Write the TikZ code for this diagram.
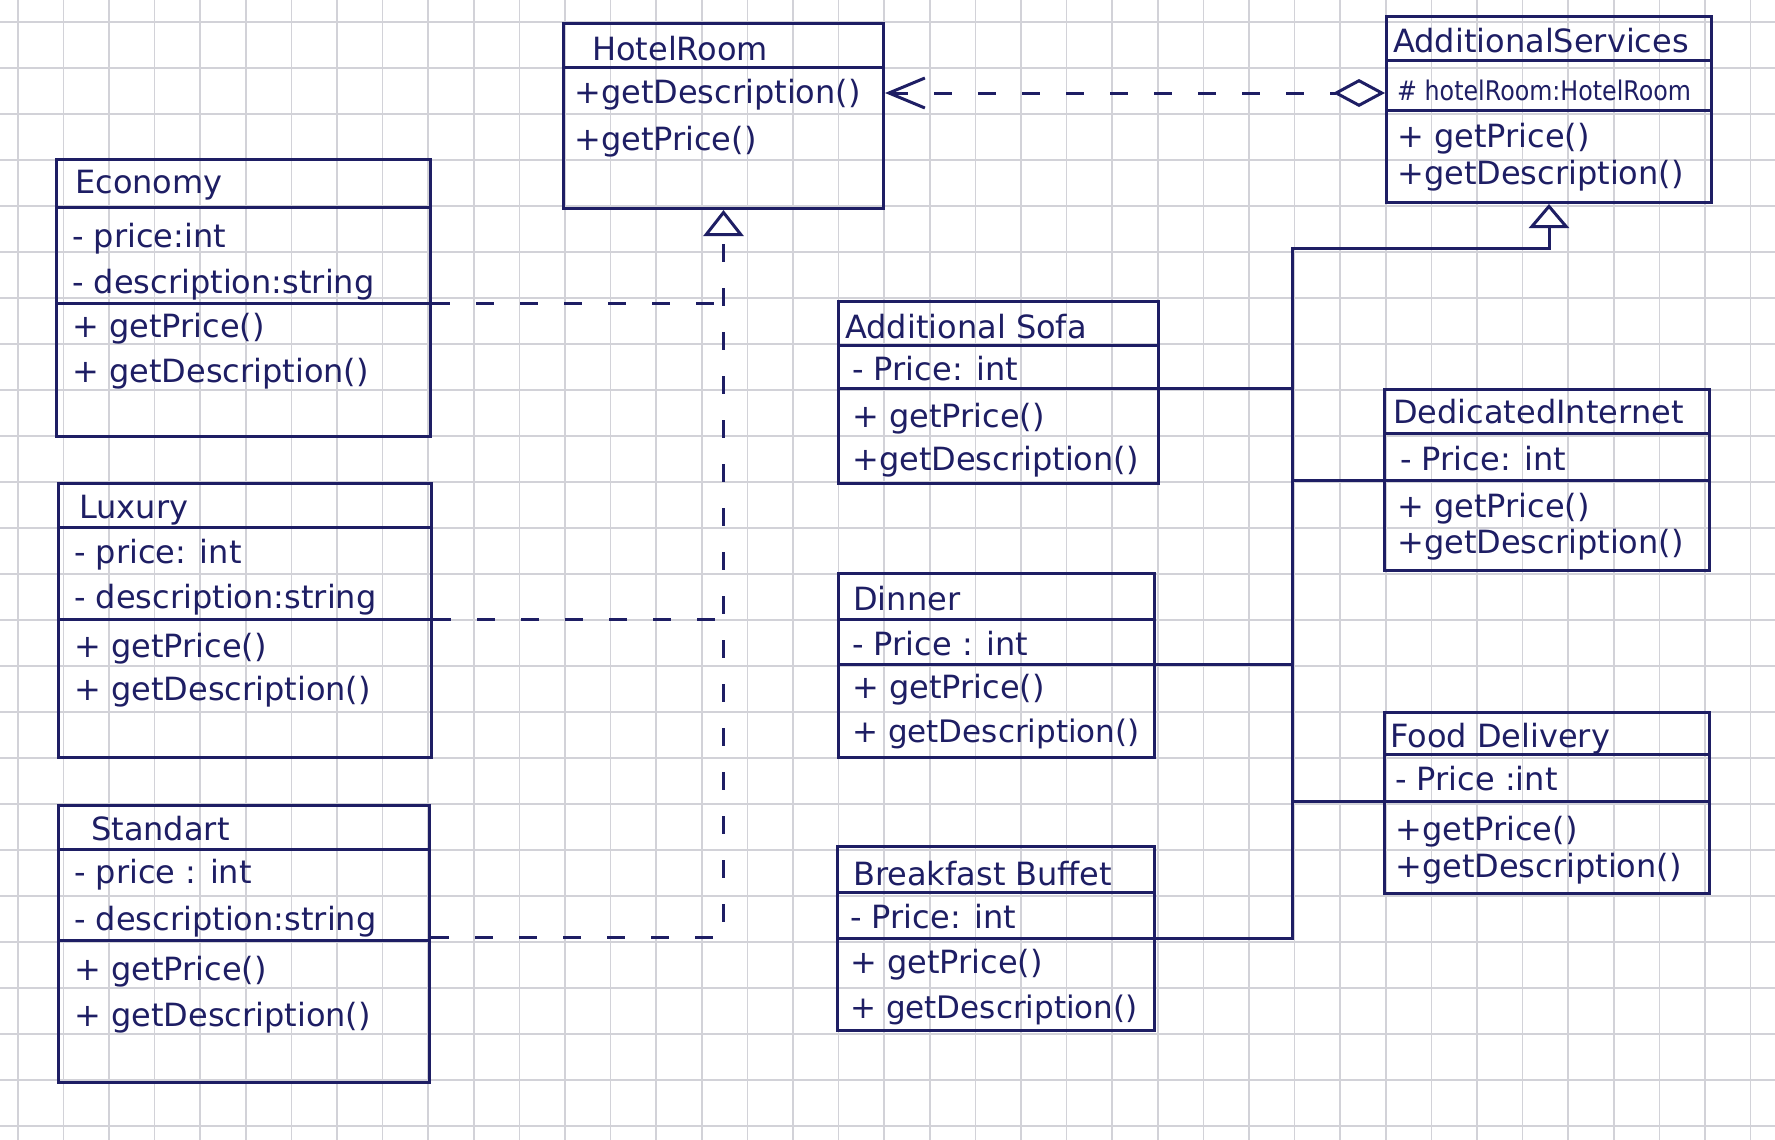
\documentclass[tikz,border=0pt]{standalone}
\usepackage{fontspec}
\setmainfont{DejaVu Sans}
\usetikzlibrary{arrows.meta}
\definecolor{ink}{HTML}{1E1E64}
\definecolor{gridc}{HTML}{D2D2D8}
\begin{document}
\begin{tikzpicture}[x=1pt,y=-1pt,
  cls/.style={draw=ink, line width=3pt, inner sep=0pt, anchor=north west, rectangle},
  divline/.style={draw=ink, line width=3pt},
  txt/.style={text=ink, font=\fontsize{32}{38}\selectfont, anchor=base west, inner sep=0pt},
  tight/.style={font=\fontsize{31}{36}\selectfont},
  small/.style={font=\fontsize{27}{32}\selectfont},
  dashline/.style={draw=ink, line width=3pt, dash pattern=on 18pt off 26pt},
  solidline/.style={draw=ink, line width=3pt}]
\useasboundingbox (0,0) rectangle (1775,1140);
\fill[white] (0,0) rectangle (1775,1140);
% grid paper
\foreach \i in {-12,...,26} \draw[gridc, line width=1.5pt] ({565+45.6*\i},0) -- ({565+45.6*\i},1140);
\foreach \j in {-1,...,23} \draw[gridc, line width=1.5pt] (0,{68+46*\j}) -- (1775,{68+46*\j});

% ---------- class boxes ----------
\node[cls, minimum width=320pt, minimum height=185pt] (hotel) at (562,22) {};
\draw[divline] (hotel.west |- 0,68) -- (hotel.east |- 0,68);
\node[txt] (hotel-t) at (592,60) {HotelRoom};
\node[txt] (hotel-m1) at (574,103) {+getDescription()};
\node[txt] (hotel-m2) at (574,150) {+getPrice()};

\node[cls, minimum width=325pt, minimum height=186pt] (svc) at (1385,15) {};
\draw[divline] (svc.west |- 0,61) -- (svc.east |- 0,61);
\draw[divline] (svc.west |- 0,110) -- (svc.east |- 0,110);
\node[txt] (svc-t) at (1393,53) {AdditionalServices};
\node[txt, small] (svc-a1) at (1397,100) {\scalebox{0.88}[1]{\# hotelRoom:HotelRoom}};
\node[txt] (svc-m1) at (1397,147) {+ getPrice()};
\node[txt] (svc-m2) at (1397,184) {+getDescription()};

\node[cls, minimum width=374pt, minimum height=277pt] (eco) at (55,158) {};
\draw[divline] (eco.west |- 0,207) -- (eco.east |- 0,207);
\draw[divline] (eco.west |- 0,303) -- (eco.east |- 0,303);
\node[txt] (eco-t) at (75,193) {Economy};
\node[txt] (eco-a1) at (72,247) {- price:int};
\node[txt] (eco-a2) at (72,293) {- description:string};
\node[txt] (eco-m1) at (72,337) {+ getPrice()};
\node[txt] (eco-m2) at (72,382) {+ getDescription()};

\node[cls, minimum width=373pt, minimum height=274pt] (lux) at (57,482) {};
\draw[divline] (lux.west |- 0,527) -- (lux.east |- 0,527);
\draw[divline] (lux.west |- 0,619) -- (lux.east |- 0,619);
\node[txt] (lux-t) at (79,518) {Luxury};
\node[txt] (lux-a1) at (74,563) {- price: int};
\node[txt] (lux-a2) at (74,608) {- description:string};
\node[txt] (lux-m1) at (74,657) {+ getPrice()};
\node[txt] (lux-m2) at (74,700) {+ getDescription()};

\node[cls, minimum width=371pt, minimum height=277pt] (std) at (57,804) {};
\draw[divline] (std.west |- 0,849) -- (std.east |- 0,849);
\draw[divline] (std.west |- 0,940) -- (std.east |- 0,940);
\node[txt] (std-t) at (91,840) {Standart};
\node[txt] (std-a1) at (74,883) {- price : int};
\node[txt] (std-a2) at (74,930) {- description:string};
\node[txt] (std-m1) at (74,980) {+ getPrice()};
\node[txt] (std-m2) at (74,1026) {+ getDescription()};

\node[cls, minimum width=320pt, minimum height=182pt] (sofa) at (837,300) {};
\draw[divline] (sofa.west |- 0,345) -- (sofa.east |- 0,345);
\draw[divline] (sofa.west |- 0,388) -- (sofa.east |- 0,388);
\node[txt] (sofa-t) at (845,338) {Additional Sofa};
\node[txt] (sofa-a1) at (852,380) {- Price: int};
\node[txt] (sofa-m1) at (852,427) {+ getPrice()};
\node[txt] (sofa-m2) at (852,470) {+getDescription()};

\node[cls, minimum width=316pt, minimum height=184pt] (dinner) at (837,572) {};
\draw[divline] (dinner.west |- 0,619) -- (dinner.east |- 0,619);
\draw[divline] (dinner.west |- 0,664) -- (dinner.east |- 0,664);
\node[txt] (dinner-t) at (853,610) {Dinner};
\node[txt] (dinner-a1) at (852,655) {- Price : int};
\node[txt] (dinner-m1) at (852,698) {+ getPrice()};
\node[txt, tight] (dinner-m2) at (852,742) {+ getDescription()};

\node[cls, minimum width=317pt, minimum height=184pt] (bb) at (836,845) {};
\draw[divline] (bb.west |- 0,892) -- (bb.east |- 0,892);
\draw[divline] (bb.west |- 0,938) -- (bb.east |- 0,938);
\node[txt] (bb-t) at (853,885) {Breakfast Buffet};
\node[txt] (bb-a1) at (850,928) {- Price: int};
\node[txt] (bb-m1) at (850,973) {+ getPrice()};
\node[txt, tight] (bb-m2) at (850,1018) {+ getDescription()};

\node[cls, minimum width=325pt, minimum height=181pt] (di) at (1383,388) {};
\draw[divline] (di.west |- 0,433) -- (di.east |- 0,433);
\draw[divline] (di.west |- 0,480) -- (di.east |- 0,480);
\node[txt] (di-t) at (1393,423) {DedicatedInternet};
\node[txt] (di-a1) at (1400,470) {- Price: int};
\node[txt] (di-m1) at (1397,517) {+ getPrice()};
\node[txt] (di-m2) at (1397,553) {+getDescription()};

\node[cls, minimum width=325pt, minimum height=181pt] (fd) at (1383,711) {};
\draw[divline] (fd.west |- 0,754) -- (fd.east |- 0,754);
\draw[divline] (fd.west |- 0,801) -- (fd.east |- 0,801);
\node[txt] (fd-t) at (1390,747) {Food Delivery};
\node[txt] (fd-a1) at (1395,790) {- Price :int};
\node[txt] (fd-m1) at (1395,840) {+getPrice()};
\node[txt] (fd-m2) at (1395,877) {+getDescription()};

% ---------- connectors ----------
% realization of HotelRoom
\draw[dashline] (eco.east |- 0,303) -- (hotel.south |- 0,303);
\draw[dashline] (lux.east |- 0,619) -- (hotel.south |- 0,619);
\draw[dashline, -{Triangle[open, length=26pt, width=40pt]}] (std.east |- 0,937) -| (hotel.south);

% aggregation AdditionalServices -> HotelRoom
\draw[dashline, {Straight Barb[length=36pt, width=30pt]}-{Diamond[open, length=52pt, width=28pt]}]
  (hotel.east |- 0,93) -- (svc.west |- 0,93);

% inheritance of decorators
\coordinate (trunk) at (1292,248);
\draw[solidline, -{Triangle[open, length=24pt, width=40pt]}] (bb.east |- 0,938) -| (trunk) -| (svc.south);
\draw[solidline] (sofa.east |- 0,388) -- (trunk |- 0,388);
\draw[solidline] (dinner.east |- 0,664) -- (trunk |- 0,664);
\draw[solidline] (trunk |- 0,480) -- (di.west |- 0,480);
\draw[solidline] (trunk |- 0,801) -- (fd.west |- 0,801);
\end{tikzpicture}
\end{document}
